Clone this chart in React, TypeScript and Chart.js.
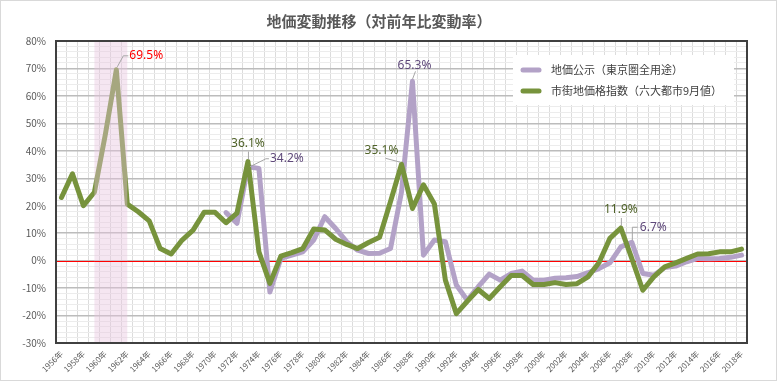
import React, { useEffect, useRef } from "react";
import { Chart, registerables } from "chart.js";

Chart.register(...registerables);

const years = [
  1956, 1957, 1958, 1959, 1960, 1961, 1962, 1963, 1964, 1965, 1966, 1967, 1968, 1969,
  1970, 1971, 1972, 1973, 1974, 1975, 1976, 1977, 1978, 1979, 1980, 1981, 1982, 1983,
  1984, 1985, 1986, 1987, 1988, 1989, 1990, 1991, 1992, 1993, 1994, 1995, 1996, 1997,
  1998, 1999, 2000, 2001, 2002, 2003, 2004, 2005, 2006, 2007, 2008, 2009, 2010, 2011,
  2012, 2013, 2014, 2015, 2016, 2017, 2018,
];
const categories = years.map((y) => `${y}年`);

// 市街地価格指数（六大都市9月値）
const shigaichi = [
  23.0, 31.6, 20.0, 24.9, 46.0, 69.5, 20.6, 17.8, 14.5, 4.4, 2.4, 7.5, 11.1, 17.6,
  17.6, 13.8, 17.3, 36.1, 3.2, -8.3, 1.6, 2.9, 4.4, 11.5, 11.2, 7.8, 5.9, 4.4,
  6.6, 8.5, 21.5, 35.1, 19.0, 27.6, 20.6, -7.1, -19.3, -14.8, -10.5, -13.8, -9.5, -5.4,
  -5.4, -8.7, -8.7, -8.0, -8.7, -8.4, -5.9, -0.8, 8.1, 11.9, 0.7, -10.8, -5.9, -2.3,
  -0.8, 0.8, 2.4, 2.5, 3.2, 3.2, 4.2,
];

// 地価公示（東京圏全用途）
const chikaKoji = [
  null, null, null, null, null, null, null, null, null, null, null, null, null, null,
  null, 17.5, 13.6, 34.2, 33.6, -11.4, 0.8, 2.0, 3.2, 7.5, 16.0, 11.7, 6.9, 3.8,
  2.6, 2.7, 4.4, 25.0, 65.3, 2.0, 7.5, 6.9, -8.9, -14.4, -9.5, -4.9, -7.1, -4.7,
  -3.8, -7.1, -7.1, -6.4, -6.2, -5.8, -4.4, -2.9, -0.8, 5.0, 6.7, -4.7, -5.3, -2.5,
  -2.0, -0.4, 0.8, 0.7, 0.8, 1.2, 2.0,
];

const yTicksMin = -30;
const yTicksMax = 80;

const titleText = "地価変動推移（対前年比変動率）";
const legendLabels = ["地価公示（東京圏全用途）", "市街地価格指数（六大都市9月値）"];

const GREEN = "#77933c";
const PURPLE = "#b3a2c7";
const FONT = '"Noto Sans CJK JP", "Noto Sans", sans-serif';

// annotations: dataset index, data index, label styling offsets
const annotations = [
  { ds: 0, i: 5, color: "#ff0000", text: "69.5%", kind: "redPeak" },
  { ds: 0, i: 17, color: "#4f6228", text: "36.1%", kind: "up" },
  { ds: 1, i: 17, color: "#5f497a", text: "34.2%", kind: "rightUp" },
  { ds: 0, i: 31, color: "#4f6228", text: "35.1%", kind: "leftUp" },
  { ds: 1, i: 32, color: "#5f497a", text: "65.3%", kind: "upSmall" },
  { ds: 0, i: 51, color: "#4f6228", text: "11.9%", kind: "up" },
  { ds: 1, i: 52, color: "#5f497a", text: "6.7%", kind: "upRight" },
];

const bandFrom = 3; // index of 1959
const bandTo = 6; // index of 1962

const decorPlugin = {
  id: "decor",
  beforeDatasetsDraw(chart: any) {
    const { ctx, chartArea, scales } = chart;
    const y0 = scales.y.getPixelForValue(0);
    ctx.save();
    ctx.strokeStyle = "#ff0000";
    ctx.lineWidth = 1;
    ctx.beginPath();
    ctx.moveTo(chartArea.left, Math.round(y0) + 0.5);
    ctx.lineTo(chartArea.right, Math.round(y0) + 0.5);
    ctx.stroke();
    ctx.restore();
  },
  afterDatasetsDraw(chart: any) {
    const { ctx, chartArea, scales } = chart;
    const xs = scales.x;
    const ys = scales.y;
    ctx.save();
    // pink band
    const bx1 = xs.getPixelForValue(bandFrom);
    const bx2 = xs.getPixelForValue(bandTo);
    ctx.fillStyle = "rgba(230,195,221,0.42)";
    ctx.fillRect(bx1, chartArea.top, bx2 - bx1, chartArea.bottom - chartArea.top);
    // redraw zero line inside band
    const y0 = Math.round(ys.getPixelForValue(0)) + 0.5;
    ctx.strokeStyle = "#ff0000";
    ctx.lineWidth = 1;
    ctx.beginPath();
    ctx.moveTo(bx1, y0);
    ctx.lineTo(bx2, y0);
    ctx.stroke();

    // annotations
    ctx.font = `12px "Noto Sans", sans-serif`;
    ctx.textBaseline = "middle";
    for (const a of annotations) {
      const data = a.ds === 0 ? shigaichi : chikaKoji;
      const v = data[a.i] as number;
      const px = xs.getPixelForValue(a.i);
      const py = ys.getPixelForValue(v);
      ctx.strokeStyle = "#a6a6a6";
      ctx.lineWidth = 1;
      ctx.fillStyle = a.color;
      ctx.beginPath();
      if (a.kind === "redPeak") {
        ctx.moveTo(px + 1, py - 3);
        ctx.lineTo(px + 7, py - 14);
        ctx.lineTo(px + 12, py - 14);
        ctx.stroke();
        ctx.textAlign = "left";
        ctx.fillText(a.text, px + 13, py - 14);
      } else if (a.kind === "up") {
        ctx.moveTo(px + 0.5, py - 2);
        ctx.lineTo(px + 0.5, py - 10);
        ctx.stroke();
        ctx.textAlign = "center";
        ctx.fillText(a.text, px, py - 18);
      } else if (a.kind === "rightUp") {
        ctx.moveTo(px + 2, py);
        ctx.lineTo(px + 18, py - 8);
        ctx.lineTo(px + 21, py - 8);
        ctx.stroke();
        ctx.textAlign = "left";
        ctx.fillText(a.text, px + 22, py - 8);
      } else if (a.kind === "leftUp") {
        ctx.moveTo(px - 1, py - 2);
        ctx.lineTo(px - 16, py - 6);
        ctx.stroke();
        ctx.textAlign = "center";
        ctx.fillText(a.text, px - 20, py - 14);
      } else if (a.kind === "upSmall") {
        ctx.moveTo(px, py - 2);
        ctx.lineTo(px + 3, py - 10);
        ctx.stroke();
        ctx.textAlign = "center";
        ctx.fillText(a.text, px + 2, py - 16);
      } else if (a.kind === "upRight") {
        ctx.moveTo(px + 0.5, py - 2);
        ctx.lineTo(px + 0.5, py - 15);
        ctx.lineTo(px + 6, py - 15);
        ctx.stroke();
        ctx.textAlign = "left";
        ctx.fillText(a.text, px + 8, py - 15);
      }
    }

    // legend box
    ctx.fillStyle = "#ffffff";
    ctx.fillRect(513, 55, 221, 50);
    const items = [
      { label: legendLabels[0], color: PURPLE, y: 70 },
      { label: legendLabels[1], color: GREEN, y: 91 },
    ];
    ctx.font = `11px ${FONT}`;
    ctx.textAlign = "left";
    ctx.textBaseline = "middle";
    for (const it of items) {
      ctx.strokeStyle = it.color;
      ctx.lineWidth = 5;
      ctx.lineCap = "round";
      ctx.beginPath();
      ctx.moveTo(523, it.y);
      ctx.lineTo(539, it.y);
      ctx.stroke();
      ctx.fillStyle = "#404040";
      ctx.fillText(it.label, 551, it.y);
    }
    ctx.restore();
  },
  afterDraw(chart: any) {
    const { ctx, chartArea, width, height } = chart;
    ctx.save();
    // plot border
    ctx.strokeStyle = "#404040";
    ctx.lineWidth = 2;
    ctx.strokeRect(chartArea.left, chartArea.top, chartArea.right - chartArea.left, chartArea.bottom - chartArea.top);
    // title
    ctx.fillStyle = "#595959";
    ctx.font = `bold 15px ${FONT}`;
    ctx.textAlign = "center";
    ctx.textBaseline = "middle";
    ctx.fillText(titleText, 379, 21);
    // outer frame
    ctx.strokeStyle = "#d9d9d9";
    ctx.lineWidth = 1;
    ctx.strokeRect(0.5, 0.5, width - 1, height - 1);
    ctx.restore();
  },
};

export default function App() {
  const canvasRef = useRef<HTMLCanvasElement | null>(null);

  useEffect(() => {
    if (!canvasRef.current) return;
    const chart = new Chart(canvasRef.current, {
      type: "line",
      data: {
        labels: categories,
        datasets: [
          {
            label: legendLabels[1],
            data: shigaichi,
            borderColor: GREEN,
            backgroundColor: GREEN,
            borderWidth: 5,
            pointRadius: 0,
            tension: 0,
            borderJoinStyle: "round",
            borderCapStyle: "round",
          },
          {
            label: legendLabels[0],
            data: chikaKoji,
            borderColor: PURPLE,
            backgroundColor: PURPLE,
            borderWidth: 5,
            pointRadius: 0,
            tension: 0,
            borderJoinStyle: "round",
            borderCapStyle: "round",
            spanGaps: false,
          },
        ],
      },
      options: {
        animation: false,
        responsive: false,
        maintainAspectRatio: false,
        layout: { padding: { left: 0, right: 30, top: 41, bottom: 0 } },
        plugins: {
          legend: { display: false },
          title: { display: false },
          tooltip: { enabled: false },
        },
        scales: {
          x: {
            type: "category",
            offset: true,
            grid: { offset: true, color: "#dcdcdc", lineWidth: 1, drawTicks: false },
            border: { display: false },
            ticks: {
              autoSkip: false,
              maxRotation: 45,
              minRotation: 45,
              padding: 6,
              color: "#595959",
              font: { size: 8, family: FONT },
              callback: (_v: any, i: number) => (i % 2 === 0 ? categories[i] : ""),
            },
            afterFit: (s: any) => {
              s.height = 38;
            },
          },
          y: {
            min: yTicksMin,
            max: yTicksMax,
            border: { display: false },
            grid: {
              drawTicks: false,
              color: (c: any) => (c.tick && c.tick.value % 10 === 0 ? "#bcbcbc" : "#ececec"),
              lineWidth: (c: any) => (c.tick && c.tick.value % 10 === 0 ? 1.5 : 1),
            },
            ticks: {
              stepSize: 2,
              autoSkip: false,
              maxTicksLimit: 100,
              padding: 10,
              color: "#595959",
              font: { size: 10, family: FONT },
              callback: (v: any) => (Number(v) % 10 === 0 ? `${v}%` : ""),
            },
            afterFit: (s: any) => {
              s.width = 56;
            },
          },
        },
      } as any,
      plugins: [decorPlugin],
    });
    return () => chart.destroy();
  }, []);

  return (
    <div style={{ position: "fixed", left: 0, top: 0, width: 777, height: 381, background: "#ffffff" }}>
      <canvas ref={canvasRef} width={777} height={381} style={{ width: 777, height: 381, display: "block" }} />
    </div>
  );
}
